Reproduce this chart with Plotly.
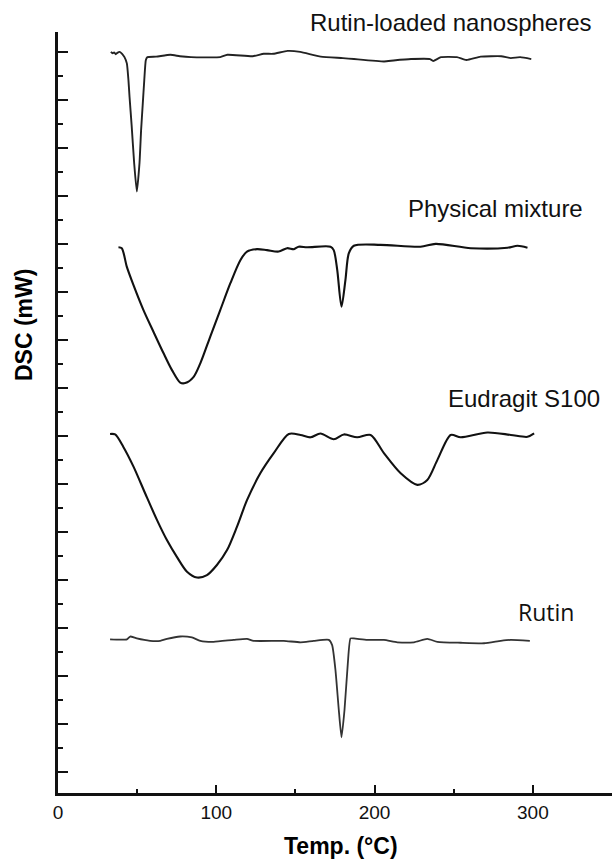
import plotly.graph_objects as go

# ---- data (DSC, arbitrary stacked units) ----
temp_nano = [33.4, 34.5, 35.5, 36.5, 37.5, 39.0, 40.5, 42.0, 43.5, 44.5, 45.2, 46.5, 48.1, 49.8,
             51.5, 52.5, 53.5, 54.5, 55.5, 56.5, 62, 71, 77, 84, 102.5, 107, 123, 130, 136,
             145, 153, 166, 180, 187, 206, 212, 223, 235, 237, 242, 252, 258, 267, 280, 286, 292, 299]
dsc_nano = [15.44, 15.41, 15.43, 15.39, 15.42, 15.44, 15.40, 15.33, 15.20, 14.85, 14.50, 13.92, 13.13, 12.53,
            13.13, 13.81, 14.33, 14.85, 15.27, 15.33, 15.34, 15.38, 15.35, 15.33, 15.33, 15.38, 15.35, 15.40, 15.40,
            15.46, 15.44, 15.34, 15.31, 15.29, 15.24, 15.26, 15.29, 15.29, 15.25, 15.33, 15.33, 15.27, 15.34, 15.35,
            15.31, 15.33, 15.29]

temp_mix = [38.2, 40.3, 43.5, 47.7, 54.0, 60.3, 66.7, 72.0, 77.2, 80.4, 85.7, 89.9, 96.2, 102.5, 108.9,
            115.2, 119.4, 125.7, 132.0, 139.4, 144.7, 149.0, 152.0, 157.4, 172.2, 174.2, 176.4, 179.1,
            181.6, 183.7, 186.9, 203.8, 229.0, 238.6, 260.8, 284.0, 290.3, 296.6]
dsc_mix = [11.37, 11.35, 10.96, 10.58, 10.06, 9.61, 9.16, 8.81, 8.55, 8.54, 8.67, 8.95, 9.51, 10.06, 10.62,
           11.10, 11.28, 11.33, 11.31, 11.28, 11.35, 11.33, 11.38, 11.37, 11.38, 11.31, 10.90, 10.13,
           10.69, 11.24, 11.40, 11.42, 11.38, 11.44, 11.35, 11.36, 11.40, 11.36]

temp_eud = [32.9, 36.1, 41.3, 47.7, 55.1, 62.5, 68.8, 75.1, 81.5, 87.8, 94.1, 100.4, 106.8, 113.1, 119.4,
            127.8, 136.3, 145.8, 153.2, 159.5, 165.8, 174.2, 180.6, 189.0, 197.5, 205.9, 216.5, 227.0,
            233.3, 239.7, 248.1, 254.4, 271.3, 286.1, 296.6, 300.8]
dsc_eud = [7.48, 7.47, 7.21, 6.80, 6.24, 5.69, 5.27, 4.92, 4.61, 4.49, 4.54, 4.75, 5.06, 5.55, 6.10,
           6.66, 7.08, 7.48, 7.46, 7.41, 7.49, 7.37, 7.47, 7.41, 7.46, 7.08, 6.66, 6.42,
           6.52, 6.94, 7.46, 7.41, 7.51, 7.46, 7.42, 7.49]

temp_rutin = [32.9, 43.5, 45.6, 49.8, 58.2, 64.6, 68.8, 77.2, 84.6, 89.9, 98.3, 111.0, 119.4, 123.6, 142.6,
              153.2, 161.6, 171.1, 173.2, 175.3, 177.4, 179.1, 181.0, 183.1, 184.8, 186.9, 195.4, 205.9,
              214.4, 224.9, 233.3, 239.7, 254.4, 269.2, 279.7, 286.1, 298.1]
dsc_rutin = [3.20, 3.20, 3.26, 3.22, 3.17, 3.17, 3.21, 3.26, 3.24, 3.17, 3.15, 3.19, 3.21, 3.17, 3.17,
             3.14, 3.17, 3.19, 3.08, 2.56, 1.73, 1.16, 1.73, 2.70, 3.22, 3.22, 3.19, 3.19,
             3.14, 3.14, 3.21, 3.15, 3.13, 3.12, 3.17, 3.19, 3.17]

series_names = ["Rutin-loaded nanospheres", "Physical mixture", "Eudragit S100", "Rutin"]
x_tick_vals = [0, 100, 200, 300]
x_tick_text = ["0", "100", "200", "300"]

# ---- figure ----
W, H = 614, 860
ML, MR, MT, MB = 58, 2, 32, 67
pw, ph = W - ML - MR, H - MT - MB

def px(xp, yp):
    return (xp - ML) / pw, (H - MB - yp) / ph

fig = go.Figure()
for t, d, c, w, sm in [(temp_nano, dsc_nano, "#222222", 1.9, 0.5), (temp_mix, dsc_mix, "#111111", 2.1, 0.8),
                       (temp_eud, dsc_eud, "#111111", 2.1, 0.8), (temp_rutin, dsc_rutin, "#333333", 1.8, 0.5)]:
    fig.add_trace(go.Scatter(x=t, y=d, mode="lines",
                             line=dict(color=c, width=w, shape="spline", smoothing=sm),
                             showlegend=False, hoverinfo="skip"))

label_pos = [(451, 23, "Arial"), (495, 209, "Arial"), (524, 398, "Arial"), (546, 612, "Open Sans")]
for name, (lx, ly, fam) in zip(series_names, label_pos):
    xx, yy = px(lx, ly)
    fig.add_annotation(x=xx, y=yy, xref="paper", yref="paper", text=name, showarrow=False,
                       xanchor="center", yanchor="middle",
                       font=dict(family=fam, size=24 if fam == "Arial" else 23, color="#111"))

xx, yy = px(24, 325)
fig.add_annotation(x=xx, y=yy, xref="paper", yref="paper", text="<b>DSC (mW)</b>", showarrow=False,
                   textangle=-90, xanchor="center", yanchor="middle",
                   font=dict(family="Arial", size=23, color="#000"))
xx, yy = px(341, 846)
fig.add_annotation(x=xx, y=yy, xref="paper", yref="paper", text="<b>Temp. (°C)</b>", showarrow=False,
                   xanchor="center", yanchor="middle",
                   font=dict(family="Arial", size=23, color="#000"))

fig.update_layout(
    width=W, height=H, margin=dict(l=ML, r=MR, t=MT, b=MB),
    paper_bgcolor="white", plot_bgcolor="white",
    xaxis=dict(range=[0, 350], showgrid=False, zeroline=False, showline=True, linecolor="#111",
               linewidth=2.5, ticks="inside", ticklen=8, tickwidth=2.2, tickcolor="#111",
               tickvals=x_tick_vals, ticktext=x_tick_text,
               tickfont=dict(family="Arial", size=19, color="#111"),
               minor=dict(ticks="inside", dtick=50, tick0=0, ticklen=4, tickwidth=2, tickcolor="#111")),
    yaxis=dict(range=[0, 15.854], showgrid=False, zeroline=False, showline=True, linecolor="#111",
               linewidth=2.5, ticks="inside", ticklen=10, tickwidth=2.2, tickcolor="#111",
               tick0=0.4375, dtick=1, showticklabels=False,
               minor=dict(ticks="inside", tick0=0.9375, dtick=1, ticklen=5, tickwidth=2, tickcolor="#111")),
)
fig.write_html("out.html")
